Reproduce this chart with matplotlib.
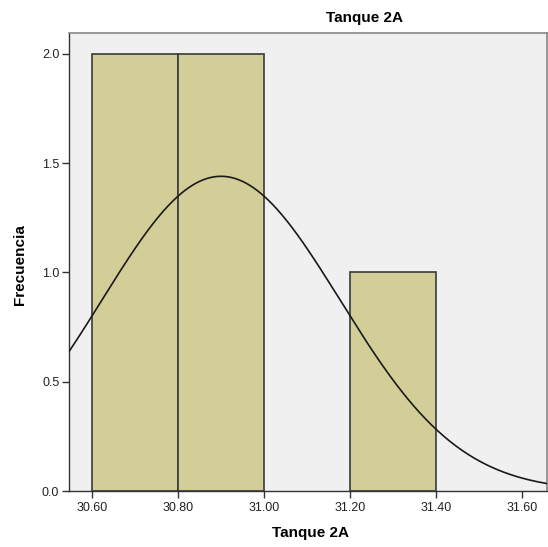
import numpy as np
import matplotlib
matplotlib.use("Agg")
import matplotlib.pyplot as plt

plt.rcParams['font.family'] = ['Liberation Sans', 'DejaVu Sans']

# Histogram data
bin_left = [30.60, 30.80, 31.20]
bin_width = 0.20
freq = [2, 2, 1]
# Normal curve parameters
curve_mean = 30.90
curve_sd = 0.277
n_total = 5

xticks = [30.60, 30.80, 31.00, 31.20, 31.40, 31.60]
xtick_labels = ["30.60", "30.80", "31.00", "31.20", "31.40", "31.60"]
yticks = [0.0, 0.5, 1.0, 1.5, 2.0]
ytick_labels = ["0.0", "0.5", "1.0", "1.5", "2.0"]

W, H = 548, 547
fig = plt.figure(figsize=(W/100, H/100), dpi=100)
fig.patch.set_facecolor('white')
ax = fig.add_axes([69/W, (H-491)/H, (547-69)/W, (491-33)/H])
ax.set_facecolor('#F0F0F0')

ax.bar(bin_left, freq, width=bin_width, align='edge', color='#D3CE97',
       edgecolor='#3A3A3A', linewidth=1.2, zorder=2)

xmin, xmax = 30.5465, 31.658
xs = np.linspace(xmin, xmax, 400)
ys = n_total * bin_width / (curve_sd * np.sqrt(2*np.pi)) * np.exp(-0.5*((xs-curve_mean)/curve_sd)**2)
ax.plot(xs, ys, color='#1a1a1a', linewidth=1.2, zorder=3)

ax.set_xlim(xmin, xmax)
ax.set_ylim(0, 2.096)
ax.set_xticks(xticks)
ax.set_xticklabels(xtick_labels)
ax.set_yticks(yticks)
ax.set_yticklabels(ytick_labels)
ax.tick_params(axis='both', direction='out', length=5, width=1, color='#333333',
               labelsize=9, labelcolor='#222222', pad=2)
ax.tick_params(axis='x', pad=3)
for side in ['left', 'bottom']:
    ax.spines[side].set_color('#333333')
    ax.spines[side].set_linewidth(1)
for side in ['top', 'right']:
    ax.spines[side].set_color('#888888')
    ax.spines[side].set_linewidth(1.2)

fig.text(364/W, 1-18/H, "Tanque 2A", ha='center', va='center', fontsize=11, fontweight='bold')
fig.text(310/W, 1-533/H, "Tanque 2A", ha='center', va='center', fontsize=11, fontweight='bold')
fig.text(20/W, 1-265/H, "Frecuencia", ha='center', va='center', rotation=90, fontsize=11, fontweight='bold')

fig.savefig("out.png", dpi=100)
